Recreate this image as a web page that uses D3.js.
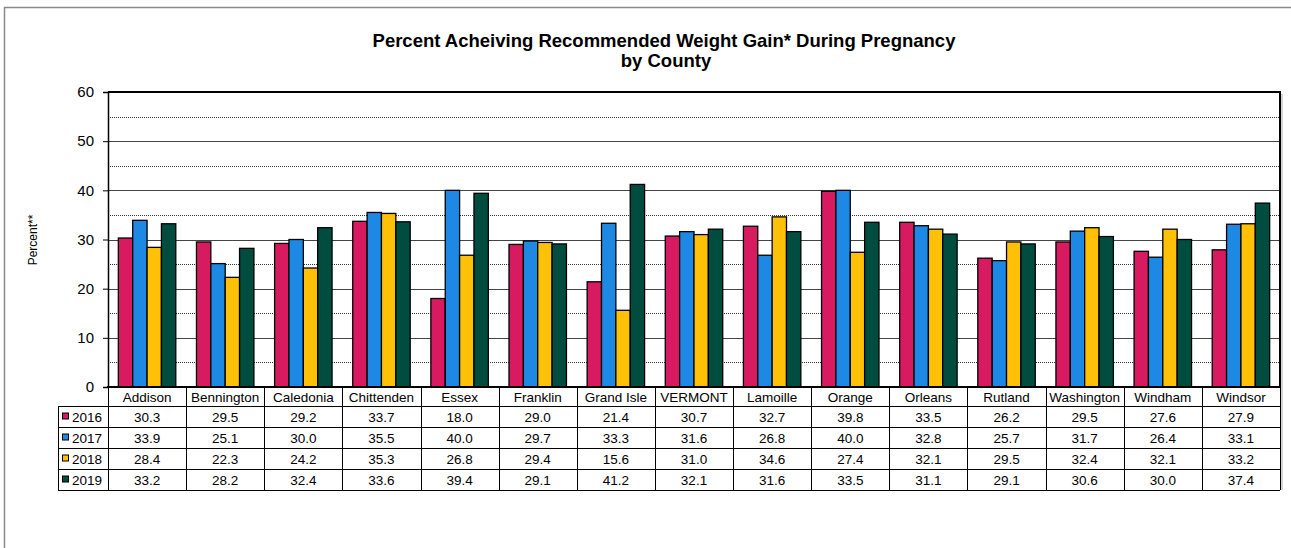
<!DOCTYPE html>
<html>
<head>
<meta charset="utf-8">
<script src="https://cdn.jsdelivr.net/npm/d3@7"></script>
<style>
  body { margin: 0; background: #fff; }
  svg { font-family: "Liberation Sans", Arial, sans-serif; }
</style>
</head>
<body>
<div id="chart"></div>
<script>
const counties = ['Addison', 'Bennington', 'Caledonia', 'Chittenden', 'Essex', 'Franklin', 'Grand Isle',
  'VERMONT', 'Lamoille', 'Orange', 'Orleans', 'Rutland', 'Washington', 'Windham', 'Windsor']
const years = ['2016', '2017', '2018', '2019']
const v2016 = [30.3, 29.5, 29.2, 33.7, 18.0, 29.0, 21.4, 30.7, 32.7, 39.8, 33.5, 26.2, 29.5, 27.6, 27.9]
const v2017 = [33.9, 25.1, 30.0, 35.5, 40.0, 29.7, 33.3, 31.6, 26.8, 40.0, 32.8, 25.7, 31.7, 26.4, 33.1]
const v2018 = [28.4, 22.3, 24.2, 35.3, 26.8, 29.4, 15.6, 31.0, 34.6, 27.4, 32.1, 29.5, 32.4, 32.1, 33.2]
const v2019 = [33.2, 28.2, 32.4, 33.6, 39.4, 29.1, 41.2, 32.1, 31.6, 33.5, 31.1, 29.1, 30.6, 30.0, 37.4]
const yTicks = [0, 10, 20, 30, 40, 50, 60]
const minorTicks = [5, 15, 25, 35, 45, 55]
const colors = ['#D81B60', '#1E88E5', '#FFC107', '#004D40']

const series = [v2016, v2017, v2018, v2019]
const W = 1291, H = 548
const plot = { left: 108, right: 1280, top: 92, bottom: 387 }
const rowH = 21, headH = 19, legendX = 58
const tableFont = 13.5

const svg = d3.select('#chart').append('svg').attr('width', W).attr('height', H)

// outer frame (runs past right / bottom edge)
svg.append('rect').attr('x', 4.5).attr('y', 7.5).attr('width', 1310).attr('height', 600)
  .attr('fill', 'none').attr('stroke', '#8a8a8a').attr('stroke-width', 1.5)

svg.append('text').attr('x', 664).attr('y', 47).attr('text-anchor', 'middle')
  .attr('font-size', 18.5).attr('font-weight', 'bold').text('Percent Acheiving Recommended Weight Gain* During Pregnancy')
svg.append('text').attr('x', 666).attr('y', 67).attr('text-anchor', 'middle')
  .attr('font-size', 18.5).attr('font-weight', 'bold').text('by County')

const x0 = d3.scaleBand().domain(counties).range([plot.left, plot.right]).padding(0)
const x1 = d3.scaleBand().domain(years).range([0, x0.bandwidth()]).paddingInner(0).paddingOuter(0.72)
const y = d3.scaleLinear().domain([0, 60]).range([plot.bottom, plot.top])

// gridlines
const grid = svg.append('g')
grid.selectAll('line.major').data(yTicks.filter(d => d > 0 && d < 60)).join('line')
  .attr('x1', plot.left).attr('x2', plot.right)
  .attr('y1', d => Math.round(y(d)) + 0.5).attr('y2', d => Math.round(y(d)) + 0.5)
  .attr('stroke', '#444').attr('stroke-width', 1.2)
grid.selectAll('line.minor').data(minorTicks).join('line')
  .attr('x1', plot.left).attr('x2', plot.right)
  .attr('y1', d => Math.round(y(d)) + 0.5).attr('y2', d => Math.round(y(d)) + 0.5)
  .attr('stroke', '#333').attr('stroke-width', 1).attr('stroke-dasharray', '1,1')

// bars
const groups = svg.append('g').selectAll('g').data(counties).join('g')
  .attr('transform', d => `translate(${x0(d)},0)`)
groups.selectAll('rect').data((c, i) => years.map((yr, k) => ({ yr, k, v: series[k][i] }))).join('rect')
  .attr('x', d => x1(d.yr)).attr('width', x1.bandwidth())
  .attr('y', d => y(d.v)).attr('height', d => y(0) - y(d.v))
  .attr('fill', d => colors[d.k]).attr('stroke', '#000').attr('stroke-width', 1.3)

// plot frame: top and right
svg.append('line').attr('x1', plot.left).attr('x2', plot.right + 1).attr('y1', plot.top).attr('y2', plot.top)
  .attr('stroke', '#000').attr('stroke-width', 2)
svg.append('line').attr('x1', plot.right).attr('x2', plot.right).attr('y1', plot.top).attr('y2', plot.bottom)
  .attr('stroke', '#000').attr('stroke-width', 2)
svg.append('line').attr('x1', plot.right + 2).attr('x2', plot.right + 2).attr('y1', plot.top + 2).attr('y2', plot.bottom + 4 * rowH + headH)
  .attr('stroke', '#aaa').attr('stroke-width', 1)

// y axis
const yAxis = svg.append('g').attr('transform', `translate(${plot.left},0)`)
  .call(d3.axisLeft(y).tickValues(yTicks).tickSize(5).tickPadding(9).tickFormat(d3.format('d')))
yAxis.select('.domain').attr('stroke', '#000').attr('stroke-width', 1.5)
yAxis.selectAll('.tick line').attr('stroke', '#000')
yAxis.selectAll('text').attr('font-size', 15).attr('font-family', '"Liberation Sans", Arial, sans-serif').attr('fill', '#000')

svg.append('text').attr('transform', 'translate(37,240) rotate(-90)').attr('text-anchor', 'middle')
  .attr('font-size', 12).text('Percent**')

// data table
const table = svg.append('g')
const tBottom = plot.bottom + headH + rowH * years.length
const rowY = k => plot.bottom + headH + rowH * k
// horizontal lines
table.append('line').attr('x1', plot.left - 1).attr('x2', plot.right + 1).attr('y1', plot.bottom).attr('y2', plot.bottom)
  .attr('stroke', '#000').attr('stroke-width', 2)
table.selectAll('line.h').data(d3.range(years.length + 1)).join('line')
  .attr('x1', legendX).attr('x2', plot.right)
  .attr('y1', k => rowY(k) + 0.5).attr('y2', k => rowY(k) + 0.5)
  .attr('stroke', '#000').attr('stroke-width', 1)
// vertical lines
table.selectAll('line.v').data(counties.map(c => x0(c)).concat([plot.right])).join('line')
  .attr('x1', d => Math.round(d) + 0.5).attr('x2', d => Math.round(d) + 0.5)
  .attr('y1', plot.bottom).attr('y2', tBottom)
  .attr('stroke', '#000').attr('stroke-width', 1)
table.append('line').attr('x1', legendX + 0.5).attr('x2', legendX + 0.5).attr('y1', rowY(0)).attr('y2', tBottom)
  .attr('stroke', '#000').attr('stroke-width', 1)

// header
table.selectAll('text.cat').data(counties).join('text')
  .attr('x', d => x0(d) + x0.bandwidth() / 2).attr('y', plot.bottom + 15)
  .attr('text-anchor', 'middle').attr('font-size', tableFont).text(d => d)

// legend cells
years.forEach((yr, k) => {
  const cy = rowY(k) + rowH / 2
  table.append('rect').attr('x', 62.5).attr('y', cy - 3.5).attr('width', 6).attr('height', 6)
    .attr('fill', colors[k]).attr('stroke', '#000').attr('stroke-width', 1)
  table.append('text').attr('x', 72).attr('y', cy + 5).attr('font-size', tableFont).text(yr)
  table.selectAll(null).data(series[k]).join('text')
    .attr('x', (d, i) => x0(counties[i]) + x0.bandwidth() / 2).attr('y', cy + 5)
    .attr('text-anchor', 'middle').attr('font-size', tableFont).text(d => d.toFixed(1))
})
</script>
</body>
</html>
